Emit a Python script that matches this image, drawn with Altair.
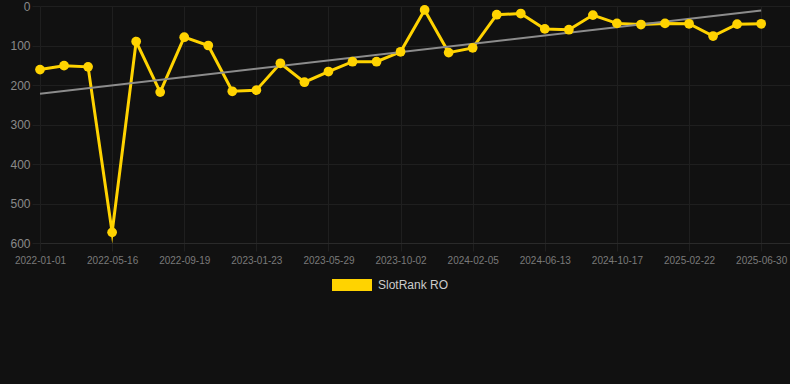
import altair as alt
import pandas as pd

ranks = [161, 151, 154, 573, 90, 218, 79, 100, 216, 213, 145, 193, 166, 141, 141,
         116, 10, 118, 106, 22, 19, 58, 60, 23, 44, 47, 44, 45, 76, 46, 45]
tick_labels = ["2022-01-01", "2022-05-16", "2022-09-19", "2023-01-23", "2023-05-29",
               "2023-10-02", "2024-02-05", "2024-06-13", "2024-10-17", "2025-02-22",
               "2025-06-30"]
y_ticks = [0, 100, 200, 300, 400, 500, 600]
series_name = "SlotRank RO"

GOLD = "#FFD300"
GRID = "#1f1f1f"
FONT = "Liberation Sans"

df = pd.DataFrame({"i": list(range(len(ranks))), "rank": ranks, "series": series_name})

tick_positions = [3 * k for k in range(len(tick_labels))]
label_expr = "[" + ",".join(f"'{t}'" for t in tick_labels) + "][round(datum.value / 3)]"

x_enc = alt.X(
    "i:Q",
    scale=alt.Scale(domain=[0, 31.2], nice=False, zero=False),
    axis=alt.Axis(values=tick_positions, labelExpr=label_expr, title=None,
                  labelFontSize=10, labelColor="#7a7a7a", labelFont=FONT,
                  gridColor=GRID, tickColor=GRID, tickSize=8, labelPadding=4,
                  domain=True, domainColor="#2a2a2a", labelFlush=False),
)
y_enc = alt.Y(
    "rank:Q",
    scale=alt.Scale(domain=[0, 600], reverse=True, nice=False, zero=False),
    axis=alt.Axis(values=y_ticks, title=None, labelFontSize=12, labelColor="#8a8a8a",
                  labelFont=FONT, gridColor=GRID, tickColor=GRID, tickSize=8,
                  labelPadding=2, domain=False),
)

color_scale = alt.Scale(domain=[series_name], range=[GOLD])

base = alt.Chart(df)

line = base.mark_line(strokeWidth=3, color=GOLD, strokeJoin="miter",
                      strokeMiterLimit=10).encode(x=x_enc, y=y_enc)

points = base.mark_circle(size=95, opacity=1).encode(
    x=x_enc,
    y=y_enc,
    color=alt.Color(
        "series:N",
        scale=color_scale,
        legend=alt.Legend(
            title=None,
            orient="none",
            legendX=292,
            legendY=259,
            padding=0,
            symbolType="M-1,-0.3H1V0.3H-1Z",
            symbolSize=1600,
            symbolStrokeWidth=0,
            symbolOpacity=1,
            labelFontSize=12,
            labelColor="#cccccc",
            labelFont=FONT,
            labelOffset=6,
        ),
    ),
)

trend = base.transform_regression("i", "rank").mark_line(
    color="#8c8c8c", strokeWidth=2
).encode(x=x_enc, y=y_enc)

chart = (
    alt.layer(line, trend, points)
    .properties(
        width=750,
        height=237,
        padding={"left": 40, "top": 6, "right": 0, "bottom": 141},
        autosize=alt.AutoSizeParams(type="none"),
        background="#111111",
    )
    .configure_view(stroke=None)
)

chart.save("out.html", embed_options={"renderer": "svg", "actions": False})
